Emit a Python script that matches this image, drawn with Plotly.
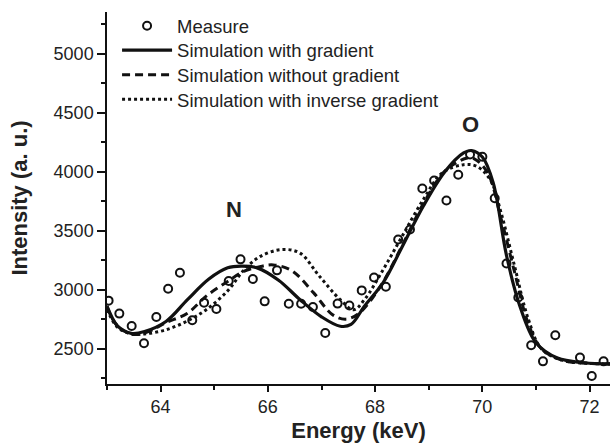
import plotly.graph_objects as go

# Measured points (energy keV, intensity a.u.)
measure_x = [63.03, 63.23, 63.46, 63.69, 63.92, 64.14, 64.36, 64.59, 64.81, 65.04,
             65.27, 65.49, 65.72, 65.94, 66.17, 66.39, 66.62, 66.84, 67.07, 67.30,
             67.52, 67.75, 67.98, 68.20, 68.43, 68.65, 68.88, 69.10, 69.33, 69.55,
             69.77, 70.00, 70.23, 70.45, 70.67, 70.91, 71.13, 71.36, 71.82, 72.04,
             72.26]
measure_y = [2907, 2797, 2692, 2545, 2768, 3008, 3144, 2740, 2890, 2836,
             3073, 3257, 3090, 2901, 3164, 2881, 2881, 2853, 2633, 2882,
             2866, 2994, 3103, 3025, 3425, 3510, 3858, 3926, 3756, 3975,
             4147, 4127, 3776, 3222, 2933, 2528, 2392, 2613, 2424, 2268,
             2392]

# Simulation with gradient
grad_x = [63.0, 63.2, 63.45, 63.7, 64.1, 64.5, 64.9, 65.25, 65.5, 65.8,
          66.2, 66.6, 67.0, 67.35, 67.55, 67.8, 68.15, 68.5, 68.9, 69.3,
          69.65, 69.8, 70.0, 70.2, 70.45, 70.7, 71.0, 71.4, 71.9, 72.4]
grad_y = [2860, 2690, 2630, 2645, 2730, 2915, 3090, 3185, 3200, 3185,
          3080, 2915, 2770, 2690, 2705, 2860, 3060, 3360, 3710, 4000,
          4160, 4180, 4125, 3910, 3290, 2860, 2550, 2420, 2380, 2370]

# Simulation without gradient
nograd_x = [63.0, 63.2, 63.5, 63.8, 64.1, 64.5, 64.85, 65.25, 65.55, 65.85,
            66.1, 66.45, 66.85, 67.2, 67.45, 67.7, 68.1, 68.5, 68.9, 69.3,
            69.7, 69.85, 70.1, 70.35, 70.6, 70.85, 71.1, 71.5, 72.0, 72.4]
nograd_y = [2855, 2690, 2620, 2650, 2720, 2800, 2945, 3070, 3155, 3195,
            3210, 3160, 2975, 2790, 2750, 2800, 3030, 3370, 3730, 4005,
            4115, 4110, 3990, 3600, 3150, 2720, 2500, 2400, 2375, 2370]

# Simulation with inverse gradient
inv_x = [63.0, 63.2, 63.45, 63.7, 64.1, 64.5, 64.85, 65.25, 65.55, 65.85,
         66.25, 66.6, 66.95, 67.35, 67.6, 67.8, 68.15, 68.5, 68.9, 69.25,
         69.65, 69.9, 70.15, 70.35, 70.6, 70.85, 71.1, 71.5, 72.0, 72.4]
inv_y = [2830, 2680, 2625, 2625, 2660, 2735, 2830, 2990, 3165, 3280,
         3340, 3310, 3120, 2915, 2830, 2915, 3170, 3450, 3765, 3990,
         4060, 4045, 3930, 3650, 3200, 2760, 2500, 2400, 2375, 2370]

series_names = ["Measure", "Simulation with gradient",
                "Simulation without gradient", "Simulation with inverse gradient"]

x_ticks = [64, 66, 68, 70, 72]
y_ticks = [2500, 3000, 3500, 4000, 4500, 5000]

peak_labels = ["N", "O"]
peak_x = [65.36, 69.77]
peak_y = [3681, 4404]

FONT = "Liberation Sans, Arial, sans-serif"
INK = "#111111"
TXT = "#222222"

fig = go.Figure()
fig.add_trace(go.Scatter(
    x=measure_x, y=measure_y, mode="markers", name=series_names[0], legend="legend",
    marker=dict(symbol="circle-open", size=8, color=INK, line=dict(width=2, color=INK)),
))
fig.add_trace(go.Scatter(
    x=grad_x, y=grad_y, mode="lines", name=series_names[1], legend="legend2",
    line=dict(color=INK, width=3.2, shape="spline", smoothing=1.0),
))
fig.add_trace(go.Scatter(
    x=nograd_x, y=nograd_y, mode="lines", name=series_names[2], legend="legend3",
    line=dict(color=INK, width=3, shape="spline", smoothing=1.0, dash="8px,5px"),
))
fig.add_trace(go.Scatter(
    x=inv_x, y=inv_y, mode="lines", name=series_names[3], legend="legend4",
    line=dict(color=INK, width=3, shape="spline", smoothing=1.0, dash="3px,3px"),
))

for t, xx, yy in zip(peak_labels, peak_x, peak_y):
    fig.add_annotation(x=xx, y=yy, text="<b>%s</b>" % t, showarrow=False,
                       font=dict(family=FONT, size=22, color=TXT))

legend_rows_y = [0.962, 0.896, 0.830, 0.764]


def legend_style(yy):
    return dict(x=0.02, y=yy, xanchor="left", yanchor="middle",
                bgcolor="rgba(0,0,0,0)", font=dict(family=FONT, size=18.5, color=TXT),
                itemwidth=50)


fig.update_layout(
    width=610, height=446,
    margin=dict(l=107, r=0, t=12, b=62),
    paper_bgcolor="white", plot_bgcolor="white",
    font=dict(family=FONT, color=TXT),
    showlegend=True,
    legend=legend_style(legend_rows_y[0]),
    legend2=legend_style(legend_rows_y[1]),
    legend3=legend_style(legend_rows_y[2]),
    legend4=legend_style(legend_rows_y[3]),
    xaxis=dict(range=[63, 72.38], tickvals=x_ticks, ticks="outside", ticklen=6,
               tickwidth=1.5, tickcolor=INK, showline=True, linecolor=INK, linewidth=1.5,
               showgrid=False, zeroline=False, tickfont=dict(size=18, color=TXT),
               minor=dict(dtick=1, tick0=63, ticks="outside", ticklen=4, tickwidth=1.5, tickcolor=INK),
               title=dict(text="<b>Energy (keV)</b>", font=dict(size=22, color=TXT), standoff=6)),
    yaxis=dict(range=[2200, 5355], tickvals=y_ticks, ticks="outside", ticklen=8,
               tickwidth=1.5, tickcolor=INK, showline=True, linecolor=INK, linewidth=1.5,
               showgrid=False, zeroline=False, tickfont=dict(size=18, color=TXT),
               minor=dict(dtick=250, tick0=2250, ticks="outside", ticklen=4, tickwidth=1.5, tickcolor=INK),
               title=dict(text="<b>Intensity (a. u.)</b>", font=dict(size=22, color=TXT), standoff=20)),
)

fig.write_html("out.html", config={"displayModeBar": False},
               post_script="document.body.style.margin='0';document.body.style.padding='0';"
                           "document.body.style.overflow='hidden';")
